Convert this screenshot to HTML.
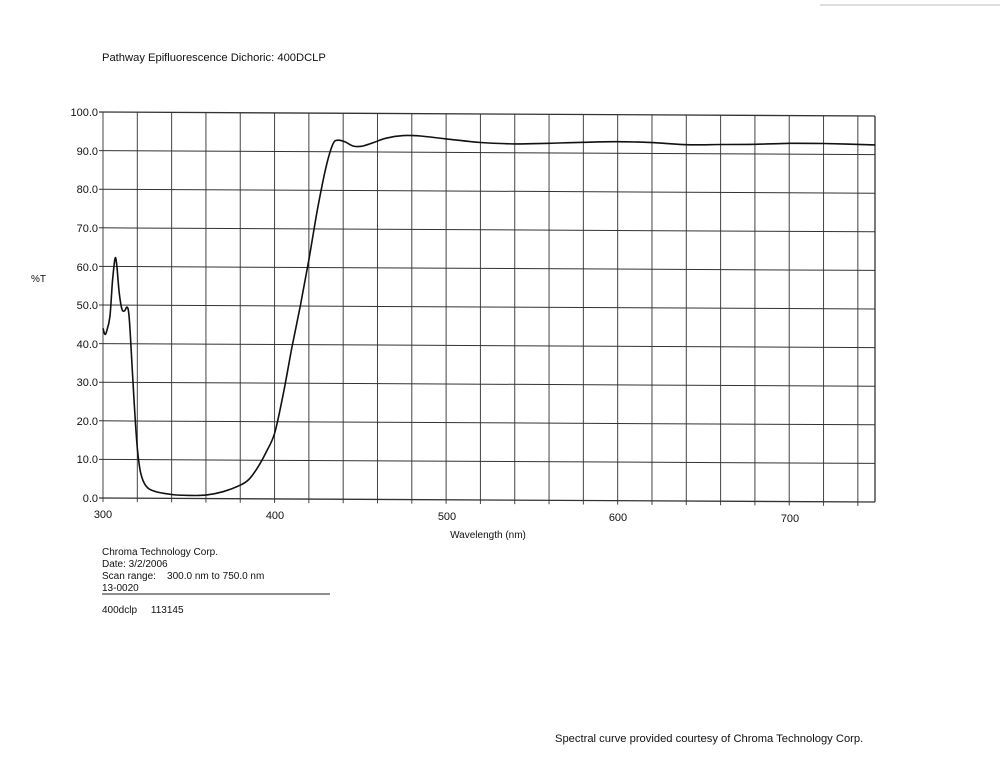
<!DOCTYPE html>
<html><head><meta charset="utf-8"><style>
body{margin:0;background:#fff;width:1000px;height:773px;overflow:hidden;font-family:"Liberation Sans",sans-serif;}
svg{position:absolute;left:0;top:0}
text{font-family:"Liberation Sans",sans-serif;fill:#111}
</style></head><body>
<svg id="s" width="1000" height="773" viewBox="0 0 1000 773">
<line x1="820" y1="5" x2="1000" y2="5" stroke="#bbb" stroke-width="1"/>
<text x="102" y="61" font-size="11.2">Pathway Epifluorescence Dichoric: 400DCLP</text>
<g font-size="11" text-anchor="end">
<text x="98" y="116">100.0</text>
<text x="98" y="155">90.0</text>
<text x="98" y="193">80.0</text>
<text x="98" y="232">70.0</text>
<text x="98" y="271">60.0</text>
<text x="98" y="309">50.0</text>
<text x="98" y="348">40.0</text>
<text x="98" y="386">30.0</text>
<text x="98" y="425">20.0</text>
<text x="98" y="463">10.0</text>
<text x="98" y="502">0.0</text>
</g>
<text x="31" y="282" font-size="10">%T</text>
<g font-size="11" text-anchor="middle">
<text x="103" y="518">300</text>
<text x="275" y="519">400</text>
<text x="447" y="520">500</text>
<text x="618" y="521">600</text>
<text x="790" y="522">700</text>
</g>
<text x="488" y="538" font-size="10" text-anchor="middle">Wavelength (nm)</text>
<g font-size="10">
<text x="102" y="555">Chroma Technology Corp.</text>
<text x="102" y="567">Date: 3/2/2006</text>
<text x="102" y="579">Scan range:&#160;&#160;&#160; 300.0 nm to 750.0 nm</text>
<text x="102" y="591">13-0020</text>
<text x="102" y="613">400dclp&#160;&#160;&#160;&#160; 113145</text>
</g>
<line x1="102" y1="594" x2="330" y2="594" stroke="#222" stroke-width="1"/>
<text x="555" y="742" font-size="11.2">Spectral curve provided courtesy of Chroma Technology Corp.</text>
<g id="g"></g>
</svg>
<script>
function P(nm,t){var u=(nm-300)/450,v=t/100;return [103+772*u,498+4*u-386*v];}
var g=document.getElementById('g'),h='';
for(var nm=300;nm<=740;nm+=20){var a=P(nm,0),b=P(nm,100);h+='<line x1="'+a[0]+'" y1="'+(a[1]+4)+'" x2="'+b[0]+'" y2="'+b[1]+'" stroke="#444" stroke-width="1"/>';}
var a=P(750,0),b=P(750,100);h+='<line x1="'+a[0]+'" y1="'+a[1]+'" x2="'+b[0]+'" y2="'+b[1]+'" stroke="#333" stroke-width="1.3"/>';
for(var t=0;t<=100;t+=10){var a=P(300,t),b=P(750,t);h+='<line x1="'+(a[0]-4)+'" y1="'+a[1]+'" x2="'+b[0]+'" y2="'+b[1]+'" stroke="#333" stroke-width="'+(t==0||t==100?1.3:1)+'"/>';}
var d=[[300,44],[301,42.5],[302,43],[304,47],[305.5,56],[307,62],[308,60.5],[309.5,53],[311,49],[312.5,48.5],[314,49.5],[315,48],[316,42],[318,26],[320,13],[322,6.5],[325,3.2],[330,1.8],[340,1.0],[350,0.8],[360,0.9],[370,1.8],[380,3.5],[385,5],[390,8],[395,12],[400,17],[405,27],[410,39],[415,50],[420,62],[425,75],[430,86],[434,92],[437,93],[441,92.6],[446,91.5],[451,91.5],[458,92.5],[465,93.6],[475,94.3],[485,94.2],[500,93.5],[520,92.6],[540,92.3],[560,92.5],[580,92.8],[600,93],[620,92.8],[640,92.3],[660,92.4],[680,92.5],[700,92.8],[720,92.8],[750,92.5]];
var pts=d.map(function(q){return P(q[0],q[1]);});
var p='M'+pts[0][0].toFixed(1)+' '+pts[0][1].toFixed(1);
for(var i=0;i<pts.length-1;i++){var p0=pts[Math.max(0,i-1)],p1=pts[i],p2=pts[i+1],p3=pts[Math.min(pts.length-1,i+2)];
var c1=[p1[0]+(p2[0]-p0[0])/6,p1[1]+(p2[1]-p0[1])/6],c2=[p2[0]-(p3[0]-p1[0])/6,p2[1]-(p3[1]-p1[1])/6];
p+='C'+c1[0].toFixed(1)+' '+c1[1].toFixed(1)+' '+c2[0].toFixed(1)+' '+c2[1].toFixed(1)+' '+p2[0].toFixed(1)+' '+p2[1].toFixed(1);}
h+='<path d="'+p+'" fill="none" stroke="#111" stroke-width="1.6" stroke-linejoin="round"/>';
g.innerHTML=h;
</script>
</body></html>
